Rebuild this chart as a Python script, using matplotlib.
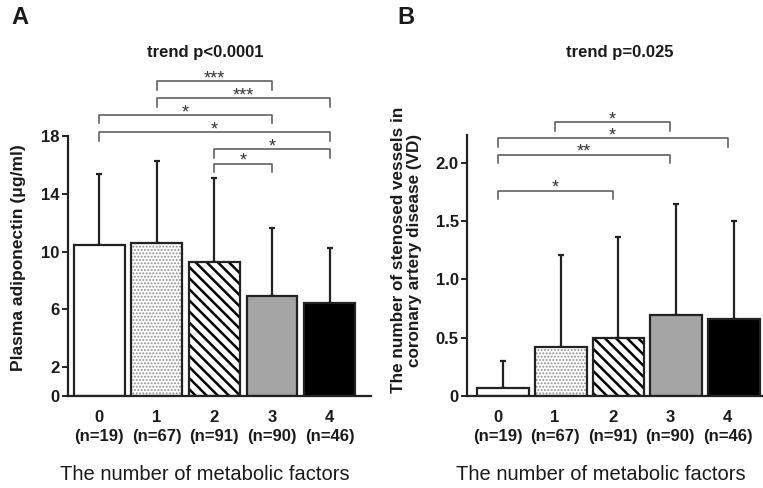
import numpy as np
import matplotlib
matplotlib.use("Agg")
import matplotlib.pyplot as plt

plt.rcParams['font.family'] = ['Liberation Sans', 'DejaVu Sans']

# data
groups = ["0", "1", "2", "3", "4"]
n_labels = ["(n=19)", "(n=67)", "(n=91)", "(n=90)", "(n=46)"]
adipo_mean = [10.45, 10.6, 9.3, 6.9, 6.45]
adipo_sd = [4.9, 5.67, 5.77, 4.75, 3.8]
vd_mean = [0.064, 0.42, 0.494, 0.695, 0.657]
vd_sd = [0.236, 0.785, 0.869, 0.955, 0.84]

# brackets (group a, group b, height, label)
adipo_pairs = [(1, 3, 21.8, "***"), (1, 4, 20.6, "***"), (0, 3, 19.46, "*"),
               (0, 4, 18.26, "*"), (2, 4, 17.1, "*"), (2, 3, 16.07, "*")]
vd_pairs = [(1, 3, 2.35, "*"), (0, 4, 2.21, "*"), (0, 3, 2.07, "**"), (0, 2, 1.76, "*")]

fills = ["white", "white", "white", "#a5a5a5", "black"]
hatches = [None, ".....", "\\\\\\", None, None]
hatch_cols = [None, "#8c8c8c", "black", None, None]
edge = "#222222"
txt = "#1a1a1a"

fig = plt.figure(figsize=(7.63, 4.88), dpi=100)
W, H = 763, 488


def px(x0, y0, x1, y1):
    return [x0 / W, 1 - y1 / H, (x1 - x0) / W, (y1 - y0) / H]


def draw_bars(ax, xs, means, sds, width):
    for i in range(len(means)):
        if hatches[i]:
            plt.rcParams['hatch.linewidth'] = 1.8 if hatch_cols[i] == "black" else 0.9
            b = ax.bar(xs[i], means[i], width, color="white", edgecolor=hatch_cols[i],
                       hatch=hatches[i], linewidth=0, zorder=2)
            if hasattr(b[0], "set_hatch_linewidth"):
                b[0].set_hatch_linewidth(plt.rcParams['hatch.linewidth'])
        else:
            ax.bar(xs[i], means[i], width, color=fills[i], linewidth=0, zorder=2)
        ax.bar(xs[i], means[i], width, fill=False, edgecolor=edge, linewidth=1.6, zorder=3)
    ax.errorbar(xs, means, yerr=[np.zeros(len(sds)), sds], fmt="none", ecolor=edge,
                elinewidth=1.6, capsize=2, capthick=1.6, zorder=1)


def draw_brackets(ax, pairs, leg):
    for a, b, h, lab in pairs:
        ax.plot([a, a, b, b], [h - leg, h, h, h - leg], color="#555555", lw=1.1,
                clip_on=False, zorder=4)
        ax.annotate(lab, xy=((a + b) / 2, h), xytext=(0, -1.5), textcoords="offset points",
                    ha="center", va="baseline", fontsize=13, color="#333333",
                    annotation_clip=False)


def style(ax):
    for s in ["top", "right"]:
        ax.spines[s].set_visible(False)
    ax.spines["left"].set_linewidth(1.6)
    ax.spines["bottom"].set_linewidth(1.6)
    ax.spines["left"].set_color(edge)
    ax.spines["bottom"].set_color(edge)
    ax.tick_params(axis="y", direction="out", length=4, width=1.4, pad=2,
                   labelsize=12, colors=edge)
    ax.tick_params(axis="x", length=0, pad=10, labelsize=12)
    for t in ax.get_yticklabels() + ax.get_xticklabels():
        t.set_fontweight("bold")
        t.set_color(txt)
    for t in ax.get_xticklabels():
        t.set_linespacing(1.35)


xpos = np.arange(len(groups))
xlabels = [g + "\n" + n for g, n in zip(groups, n_labels)]

# panel A
axA = fig.add_axes(px(67.5, 136, 371, 396))
draw_bars(axA, xpos, adipo_mean, adipo_sd, 0.88)
axA.set_xlim(-0.55, 4.72)
axA.set_ylim(0, 18)
axA.set_yticks([0, 2, 6, 10, 14, 18])
axA.set_xticks(xpos)
axA.set_xticklabels(xlabels)
style(axA)
draw_brackets(axA, adipo_pairs, 0.59)

# panel B
axB = fig.add_axes(px(467, 135, 763, 395.7))
draw_bars(axB, xpos + 0.1, vd_mean, vd_sd, 0.9)
axB.set_xlim(-0.53, 4.61)
axB.set_ylim(0, 2.24)
axB.set_yticks([0, 0.5, 1.0, 1.5, 2.0])
axB.set_yticklabels(["0", "0.5", "1.0", "1.5", "2.0"])
axB.set_xticks(xpos)
axB.set_xticklabels(xlabels)
style(axB)
draw_brackets(axB, vd_pairs, 0.072)

# texts
fig.text(11 / W, 1 - 17.5 / H, "A", fontsize=17, fontweight="bold", va="center", color=txt)
fig.text(397 / W, 1 - 17.5 / H, "B", fontsize=17, fontweight="bold", va="center", color=txt)
fig.text(205 / W, 1 - 53 / H, "trend p<0.0001", fontsize=12, fontweight="bold",
         ha="center", va="center", color=txt)
fig.text(620 / W, 1 - 53 / H, "trend p=0.025", fontsize=12, fontweight="bold",
         ha="center", va="center", color=txt)
fig.text(18.5 / W, 1 - 258 / H, "Plasma adiponectin (\u03bcg/ml)", rotation=90, fontsize=12.5,
         fontweight="bold", ha="center", va="center", color=txt)
fig.text(406.5 / W, 1 - 250 / H, "The number of stenosed vessels in\ncoronary artery disease (VD)",
         rotation=90, fontsize=12.3, fontweight="bold", ha="center", va="center",
         multialignment="center", linespacing=1.05, color=txt)
fig.text(205 / W, 1 - 475 / H, "The number of metabolic factors", fontsize=14.5,
         ha="center", va="center", color=txt)
fig.text(601 / W, 1 - 475 / H, "The number of metabolic factors", fontsize=14.5,
         ha="center", va="center", color=txt)

fig.savefig("out.png", dpi=100)
